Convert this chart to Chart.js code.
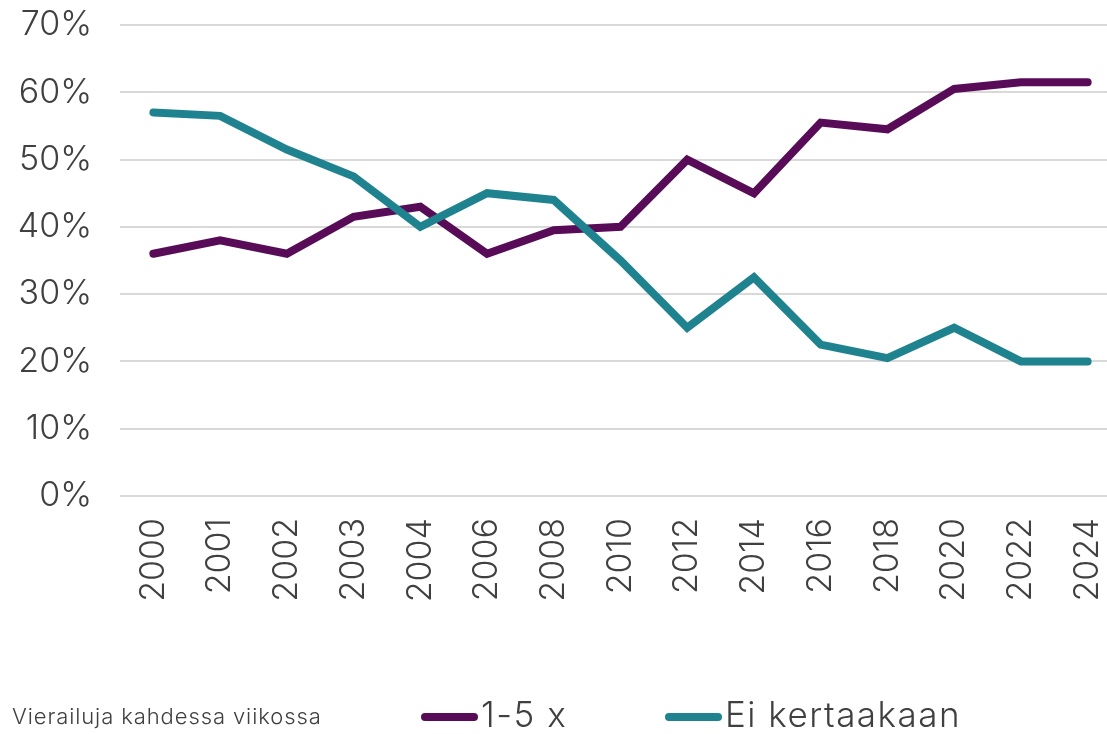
<!DOCTYPE html>
<html>
<head>
<meta charset="utf-8">
<script src="https://cdn.jsdelivr.net/npm/chart.js@4.4.1/dist/chart.umd.min.js"></script>
<style>
  html, body { margin: 0; padding: 0; background: #fff; overflow: hidden; }
  #wrap { position: relative; width: 1121px; height: 734px; }
  #legend { position: absolute; left: 0; top: 694px; width: 1107px; height: 40px;
            font-family: Inter, sans-serif; font-weight: 300; color: #404040; }
  #legend .note { position: absolute; left: 12px; top: 10px; font-size: 22px; line-height: 24px;
                  letter-spacing: 0.9px; white-space: nowrap; }
  #legend .item { position: absolute; top: 0; height: 40px; display: flex; align-items: center;
                  font-size: 35px; line-height: 40px; letter-spacing: 1.5px; white-space: nowrap; }
  #legend .swatch { width: 57px; height: 8px; border-radius: 4px; margin-right: 3px; margin-top: 6px; }
</style>
</head>
<body>
<div id="wrap">
  <canvas id="chart"></canvas>
  <div id="legend"><span class="note">Vierailuja kahdessa viikossa</span></div>
</div>
<script>
// Aineisto
const vuodet = ['2000', '2001', '2002', '2003', '2004', '2006', '2008', '2010',
                '2012', '2014', '2016', '2018', '2020', '2022', '2024'];
const kertaa1_5 = [36, 38, 36, 41.5, 43, 36, 39.5, 40, 50, 45, 55.5, 54.5, 60.5, 61.5, 61.5];
const eiKertaakaan = [57, 56.5, 51.5, 47.5, 40, 45, 44, 35, 25, 32.5, 22.5, 20.5, 25, 20, 20];
const yMax = 70;
const yStep = 10;

const tekstiVari = '#404040';
const fontti = { family: 'Inter, sans-serif', size: 34, weight: 300 };

const ctx = document.getElementById('chart');
const chart = new Chart(ctx, {
    type: 'line',
    data: {
        labels: vuodet,
        datasets: [{
            label: '1-5 x',
            data: kertaa1_5,
            borderColor: '#580c58',
            backgroundColor: '#580c58',
            order: 1
        }, {
            label: 'Ei kertaakaan',
            data: eiKertaakaan,
            borderColor: '#1f838f',
            backgroundColor: '#1f838f',
            order: 0
        }]
    },
    options: {
        responsive: true,
        maintainAspectRatio: false,
        animation: false,
        layout: { padding: { top: 25, left: 0, right: 0, bottom: 0 } },
        elements: {
            line: { borderWidth: 8, tension: 0, borderCapStyle: 'round', borderJoinStyle: 'miter' },
            point: { radius: 0, hoverRadius: 0 }
        },
        plugins: {
            legend: { display: false },
            tooltip: { enabled: false }
        },
        scales: {
            x: {
                offset: true,
                grid: { display: false, drawTicks: false },
                border: { display: false },
                ticks: { minRotation: 90, maxRotation: 90, padding: 22, color: tekstiVari, font: fontti },
                afterFit(scale) {
                    scale.height = 734 - 496;
                    scale.paddingLeft = 0;
                    scale.paddingRight = 0;
                }
            },
            y: {
                min: 0,
                max: yMax,
                grid: { color: '#d9d9d9', lineWidth: 2, drawTicks: false },
                border: { display: false },
                ticks: {
                    stepSize: yStep,
                    padding: 28,
                    color: tekstiVari,
                    font: fontti,
                    callback: v => v + '%'
                },
                afterFit(scale) {
                    scale.width = 120;
                    scale.paddingTop = 0;
                    scale.paddingBottom = 0;
                }
            }
        }
    }
});

// Selite
const selite = document.getElementById('legend');
const selitePaikat = [421, 665];
chart.data.datasets.forEach((ds, i) => {
    const item = document.createElement('span');
    item.className = 'item';
    item.style.left = selitePaikat[i] + 'px';
    const sw = document.createElement('span');
    sw.className = 'swatch';
    sw.style.background = ds.borderColor;
    item.appendChild(sw);
    item.appendChild(document.createTextNode(ds.label));
    selite.appendChild(item);
});
</script>
</body>
</html>
